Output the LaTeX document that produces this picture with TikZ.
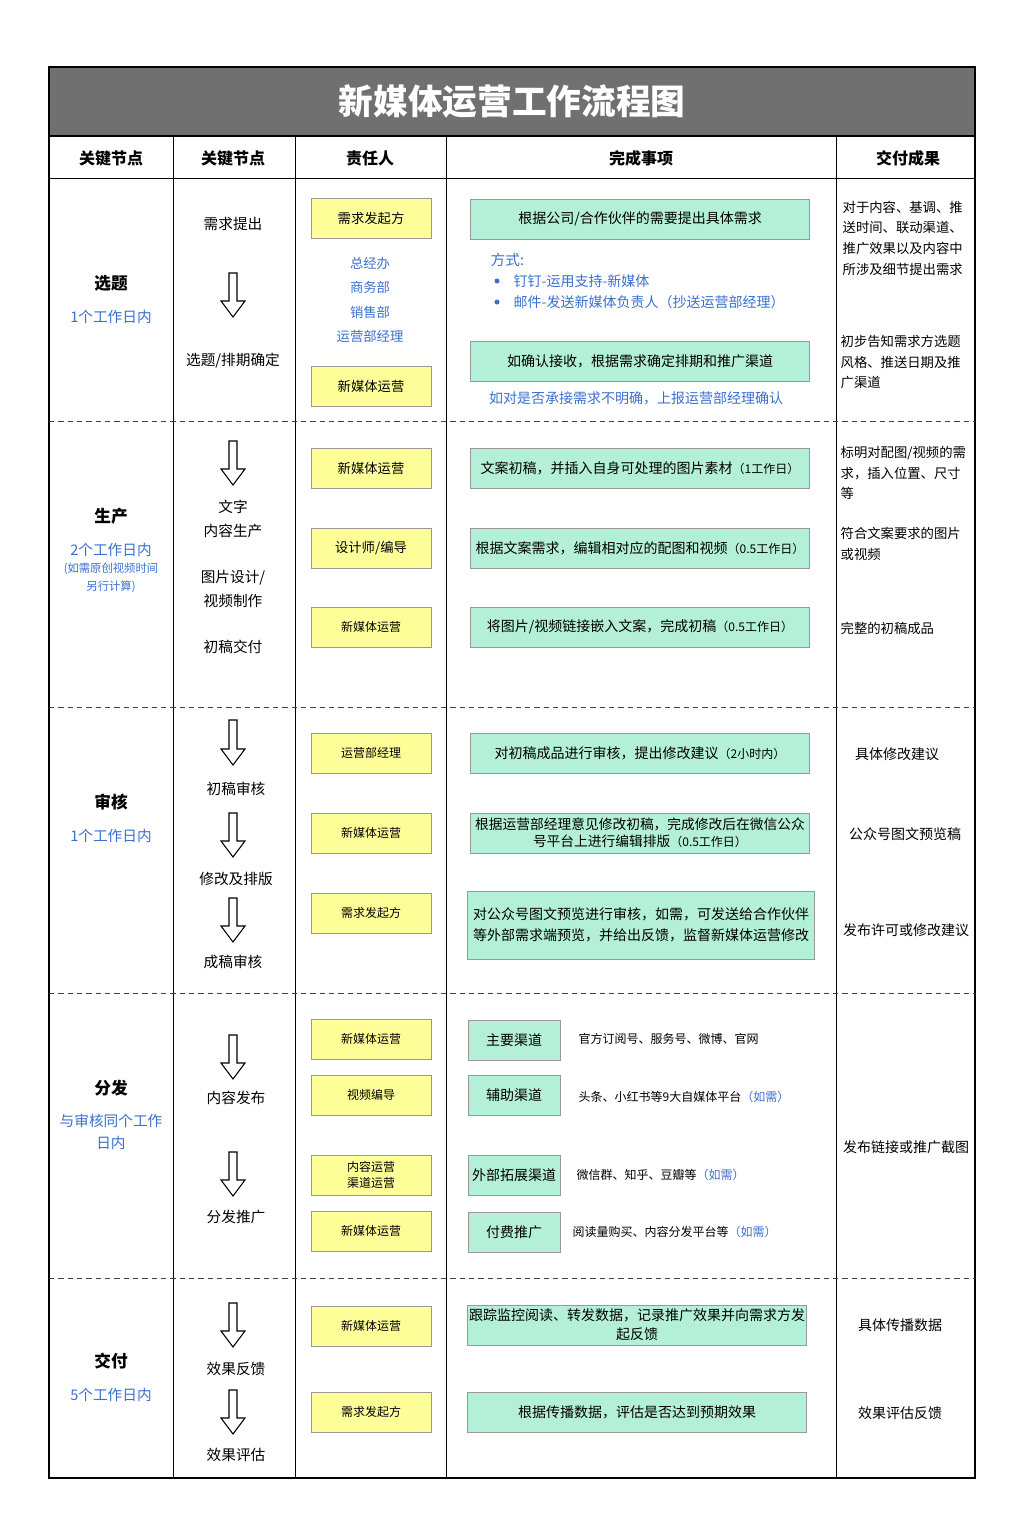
\documentclass[tikz,border=0pt]{standalone}
\usepackage{fontspec}
\setmainfont{Noto Sans CJK SC}
\usetikzlibrary{positioning}
\definecolor{titlegray}{HTML}{707070}
\definecolor{boxyellow}{HTML}{FFFF99}
\definecolor{boxgreen}{HTML}{B4F0D8}
\definecolor{noteblue}{HTML}{3A6FD0}
\tikzset{
  ybox/.style={draw=gray!80, fill=boxyellow, minimum width=90pt, minimum height=30pt, inner sep=1pt, align=center, font=\fontsize{10}{11}\selectfont},
  gbox/.style={draw=gray!80, fill=boxgreen, minimum width=254pt, minimum height=30pt, inner sep=1pt, align=center, font=\fontsize{10.5}{12}\selectfont},
  cbox/.style={draw=gray!80, fill=boxgreen, minimum width=69pt, minimum height=30pt, inner sep=1pt, font=\fontsize{10.5}{12}\selectfont},
  txt/.style={font=\fontsize{11}{13}\selectfont},
  note/.style={font=\fontsize{10}{15.5}\selectfont, align=left, anchor=west},
  blue/.style={text=noteblue},
  stage/.style={font=\fontsize{12.5}{14}\selectfont\bfseries},
  head/.style={font=\fontsize{12}{14}\selectfont\bfseries},
  sep/.style={dash pattern=on 4pt off 3pt, black!75, line width=0.6pt}
}
\newcommand{\hollowdown}[3]{% x, top, bottom
  \draw[line width=0.8pt] (#1-4,#2) -- (#1+4,#2) -- (#1+4,#3-16) -- (#1+12,#3-16)
    -- (#1,#3) -- (#1-12,#3-16) -- (#1-4,#3-16) -- cycle;}
\begin{document}
\begin{tikzpicture}[x=0.75pt,y=-0.75pt]
  \useasboundingbox (0,0) rectangle (1022,1521);
  % title band
  \fill[titlegray] (49,67) rectangle (975,136);
  \node[text=white, font=\fontsize{26}{30}\selectfont\bfseries] (title) at (512,101) {新媒体运营工作流程图};
  % frame and columns
  \draw[line width=1pt] (49,67) rectangle (975,1478);
  \draw[line width=0.8pt] (49,136) -- (975,136);
  \draw (49,178) -- (975,178);
  \foreach \cx in {173,295,446,836} \draw (\cx,136) -- (\cx,1478);
  \foreach \ry in {421,707,993,1278} \draw[sep] (49,\ry) -- (975,\ry);
  % header
  \node[head] (h1) at (111,158) {关键节点};
  \node[head] (h2) at (233,158) {关键节点};
  \node[head] (h3) at (370,158) {责任人};
  \node[head] (h4) at (641,158) {完成事项};
  \node[head] (h5) at (908,158) {交付成果};

  % ---- 选题
  \node[stage] (s1) at (111,283) {选题};
  \node[txt, blue] (s1t) at (111,317) {1个工作日内};
  \node[txt] (k11) at (233,224) {需求提出};
  \hollowdown{233}{273}{317}
  \node[txt] (k12) at (233,361) {选题/排期确定};
  \node[ybox] (r11) at (371,218) {需求发起方};
  \node[txt, blue, align=center, font=\fontsize{10}{18.3}\selectfont] (r12) at (370,300) {总经办\\商务部\\销售部\\运营部经理};
  \node[ybox] (r13) at (371,386) {新媒体运营};
  \node[gbox] (w11) at (640,219) {根据公司/合作伙伴的需要提出具体需求};
  \node[note, blue, font=\fontsize{11}{13}\selectfont] (w12) at (486,260) {方式:};
  \fill[noteblue] (497,281) circle (2.5) (497,302) circle (2.5);
  \node[note, blue, font=\fontsize{10.5}{12}\selectfont] (w13) at (509,281) {钉钉-运用支持-新媒体};
  \node[note, blue, font=\fontsize{10.5}{12}\selectfont] (w14) at (509,302) {邮件-发送新媒体负责人（抄送运营部经理）};
  \node[gbox] (w15) at (640,361) {如确认接收，根据需求确定排期和推广渠道};
  \node[txt, blue, font=\fontsize{10.5}{12}\selectfont] (w16) at (636,398) {如对是否承接需求不明确，上报运营部经理确认};
  \node[note] (d11) at (838,238) {对于内容、基调、推\\送时间、联动渠道、\\推广效果以及内容中\\所涉及细节提出需求};
  \node[note] (d12) at (836,362) {初步告知需求方选题\\风格、推送日期及推\\广渠道};

  % ---- 生产
  \node[stage] (s2) at (111,516) {生产};
  \node[txt, blue] (s2t) at (111,550) {2个工作日内};
  \node[blue, align=center, font=\fontsize{8.5}{13.5}\selectfont] (s2n) at (111,578) {(如需原创视频时间\\另行计算)};
  \hollowdown{233}{441}{485}
  \node[txt, align=center, font=\fontsize{11}{18}\selectfont] (k21) at (233,519) {文字\\内容生产};
  \node[txt, align=center, font=\fontsize{11}{18}\selectfont] (k22) at (233,589) {图片设计/\\视频制作};
  \node[txt] (k23) at (233,647) {初稿交付};
  \node[ybox] (r21) at (371,468) {新媒体运营};
  \node[ybox] (r22) at (371,548) {设计师/编导};
  \node[ybox, font=\fontsize{9}{11}\selectfont] (r23) at (371,627) {新媒体运营};
  \node[gbox] (w21) at (640,468) {文案初稿，并插入自身可处理的图片素材\small（1工作日）};
  \node[gbox] (w22) at (640,548) {根据文案需求，编辑相对应的配图和视频\small（0.5工作日）};
  \node[gbox] (w23) at (640,627) {将图片/视频链接嵌入文案，完成初稿\small（0.5工作日）};
  \node[note] (d21) at (836,473) {标明对配图/视频的需\\求，插入位置、尺寸\\等};
  \node[note] (d22) at (836,544) {符合文案要求的图片\\或视频};
  \node[note] (d23) at (836,628) {完整的初稿成品};

  % ---- 审核
  \node[stage] (s3) at (111,802) {审核};
  \node[txt, blue] (s3t) at (111,836) {1个工作日内};
  \hollowdown{233}{720}{765}
  \node[txt] (k31) at (236,789) {初稿审核};
  \hollowdown{233}{813}{857}
  \node[txt] (k32) at (236,879) {修改及排版};
  \hollowdown{233}{898}{942}
  \node[txt] (k33) at (233,962) {成稿审核};
  \node[ybox, font=\fontsize{9}{11}\selectfont] (r31) at (371,753) {运营部经理};
  \node[ybox, font=\fontsize{9}{11}\selectfont] (r32) at (371,833) {新媒体运营};
  \node[ybox, font=\fontsize{9}{11}\selectfont] (r33) at (371,913) {需求发起方};
  \node[gbox] (w31) at (640,753) {对初稿成品进行审核，提出修改建议\small（2小时内）};
  \node[gbox, font=\fontsize{10.3}{13}\selectfont] (w32) at (640,833) {根据运营部经理意见修改初稿，完成修改后在微信公众\\号平台上进行编辑排版\small（0.5工作日）};
  \node[gbox, minimum width=260pt, minimum height=51pt, font=\fontsize{10.5}{16}\selectfont] (w33) at (641,925) {对公众号图文预览进行审核，如需，可发送给合作伙伴\\等外部需求端预览，并给出反馈，监督新媒体运营修改};
  \node[txt, font=\fontsize{10.5}{12}\selectfont] (d31) at (897,754) {具体修改建议};
  \node[txt, font=\fontsize{10.5}{12}\selectfont] (d32) at (905,834) {公众号图文预览稿};
  \node[txt, font=\fontsize{10.5}{12}\selectfont] (d33) at (906,930) {发布许可或修改建议};

  % ---- 分发
  \node[stage] (s4) at (111,1088) {分发};
  \node[txt, blue, align=center, font=\fontsize{11}{16}\selectfont] (s4t) at (111,1132) {与审核同个工作\\日内};
  \hollowdown{233}{1035}{1079}
  \node[txt] (k41) at (236,1098) {内容发布};
  \hollowdown{233}{1152}{1196}
  \node[txt] (k42) at (236,1217) {分发推广};
  \node[ybox, font=\fontsize{9}{11}\selectfont] (r41) at (371,1039) {新媒体运营};
  \node[ybox, font=\fontsize{9}{11}\selectfont] (r42) at (371,1095) {视频编导};
  \node[ybox, font=\fontsize{9}{12.5}\selectfont] (r43) at (371,1175) {内容运营\\渠道运营};
  \node[ybox, font=\fontsize{9}{11}\selectfont] (r44) at (371,1231) {新媒体运营};
  \node[cbox] (c41) at (514,1040) {主要渠道};
  \node[cbox] (c42) at (514,1095) {辅助渠道};
  \node[cbox] (c43) at (514,1175) {外部拓展渠道};
  \node[cbox] (c44) at (514,1232) {付费推广};
  \node[note, font=\fontsize{9}{11}\selectfont] (t41) at (574,1039) {官方订阅号、服务号、微博、官网};
  \node[note, font=\fontsize{9}{11}\selectfont] (t42) at (574,1097) {头条、小红书等9大自媒体平台\textcolor{noteblue}{（如需）}};
  \node[note, font=\fontsize{9}{11}\selectfont] (t43) at (572,1175) {微信群、知乎、豆瓣等\textcolor{noteblue}{（如需）}};
  \node[note, font=\fontsize{9}{11}\selectfont] (t44) at (568,1232) {阅读量购买、内容分发平台等\textcolor{noteblue}{（如需）}};
  \node[txt, font=\fontsize{10.5}{12}\selectfont] (d41) at (906,1147) {发布链接或推广截图};

  % ---- 交付
  \node[stage] (s5) at (111,1361) {交付};
  \node[txt, blue] (s5t) at (111,1395) {5个工作日内};
  \hollowdown{233}{1303}{1347}
  \node[txt] (k51) at (236,1369) {效果反馈};
  \hollowdown{233}{1390}{1434}
  \node[txt] (k52) at (236,1455) {效果评估};
  \node[ybox, font=\fontsize{9}{11}\selectfont] (r51) at (371,1326) {新媒体运营};
  \node[ybox, font=\fontsize{9}{11}\selectfont] (r52) at (371,1412) {需求发起方};
  \node[gbox, font=\fontsize{10.5}{14}\selectfont] (w51) at (637,1325) {跟踪监控阅读、转发数据，记录推广效果并向需求方发\\起反馈};
  \node[gbox] (w52) at (637,1412) {根据传播数据，评估是否达到预期效果};
  \node[txt, font=\fontsize{10.5}{12}\selectfont] (d51) at (900,1325) {具体传播数据};
  \node[txt, font=\fontsize{10.5}{12}\selectfont] (d52) at (900,1413) {效果评估反馈};
\end{tikzpicture}
\end{document}
